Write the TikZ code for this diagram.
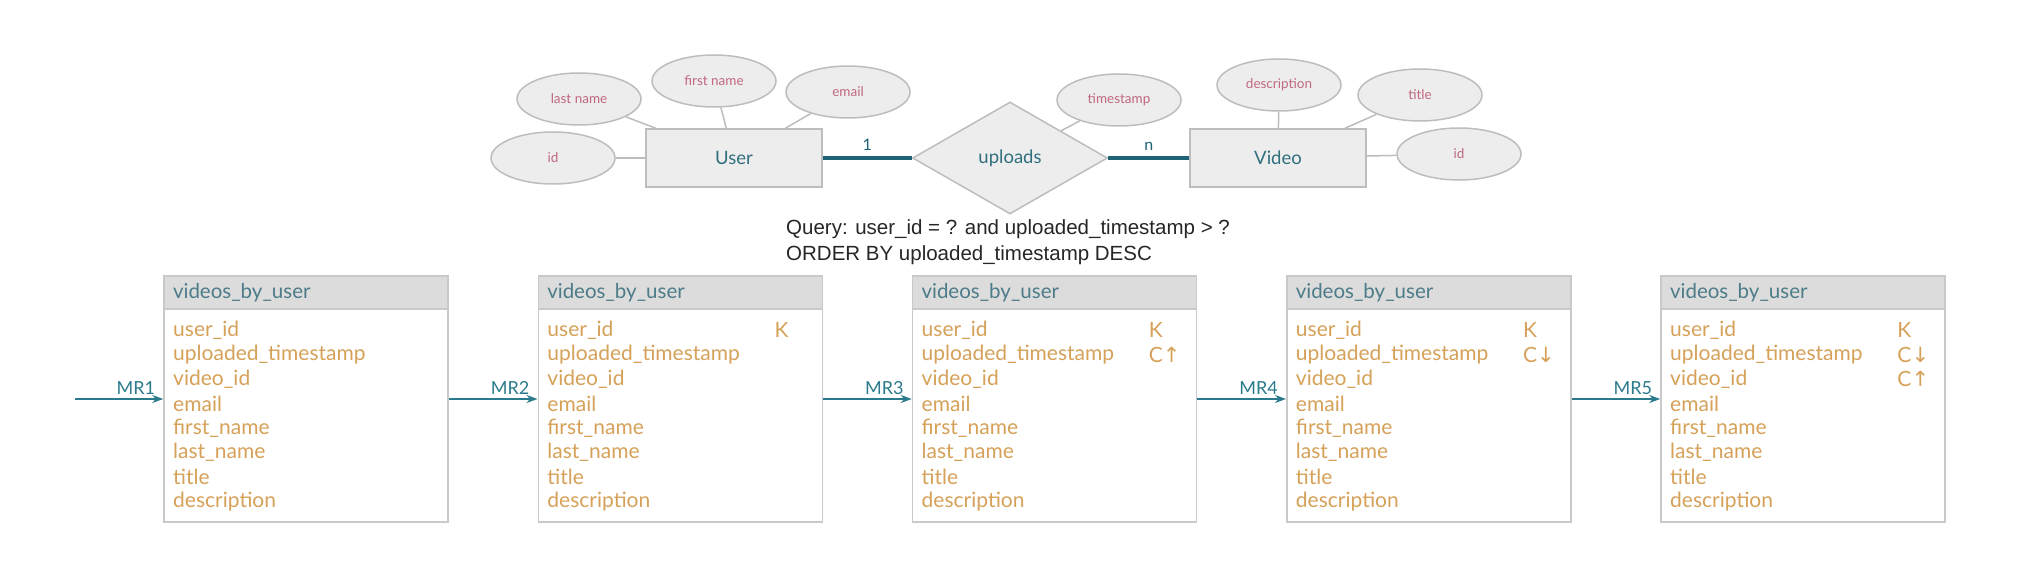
\documentclass[tikz,border=0pt]{standalone}
\usepackage{fontspec}
\setmainfont{Lato}
\newfontfamily\queryfont{Liberation Sans}
\newfontfamily\arrowfont{DejaVu Sans}
\usetikzlibrary{shapes.geometric,arrows.meta,positioning}

\definecolor{erfill}{HTML}{EDEDED}
\definecolor{erline}{HTML}{BDBDBD}
\definecolor{attrtext}{HTML}{C0687E}
\definecolor{enttext}{HTML}{2F6F7E}
\definecolor{relline}{HTML}{1E6275}
\definecolor{querytext}{HTML}{262626}
\definecolor{headfill}{HTML}{DCDCDC}
\definecolor{headtext}{HTML}{4D7C89}
\definecolor{coltext}{HTML}{D6A158}
\definecolor{tabline}{HTML}{C9C9C9}
\definecolor{mrcolor}{HTML}{2B7A8C}

\newcommand{\ascarrow}{{\arrowfont ↑}}
\newcommand{\descarrow}{{\arrowfont ↓}}

\tikzset{attr/.style = {shape = ellipse,
                        fill = erfill,
                        draw = erline,
                        line width = 1.5pt,
                        minimum width = 124pt,
                        minimum height = 52pt,
                        inner sep = 0pt,
                        text = attrtext,
                        font = \fontsize{13.5}{16}\selectfont},
         entity/.style = {shape = rectangle,
                          fill = erfill,
                          draw = erline,
                          line width = 1.5pt,
                          minimum width = 176pt,
                          minimum height = 58pt,
                          text = enttext,
                          font = \fontsize{18.5}{22}\selectfont},
         relation/.style = {shape = diamond,
                            fill = erfill,
                            draw = erline,
                            line width = 1.5pt,
                            minimum width = 195pt,
                            minimum height = 112pt,
                            inner sep = 0pt,
                            text = enttext,
                            font = \fontsize{18.5}{22}\selectfont},
         link/.style = {draw = erline, line width = 1.5pt},
         rel/.style = {draw = relline, line width = 3.5pt},
         card/.style = {above = 2pt, text = relline, font = \fontsize{16}{18}\selectfont},
         query/.style = {anchor = west,
                         align = left,
                         inner sep = 0pt,
                         text = querytext,
                         font = \queryfont\fontsize{20.5}{26}\selectfont},
         tablebox/.style = {shape = rectangle,
                            fill = white,
                            draw = tabline,
                            line width = 1.5pt,
                            minimum width = 284pt,
                            minimum height = 246pt},
         tablehead/.style = {shape = rectangle,
                             fill = headfill,
                             draw = tabline,
                             line width = 1.5pt,
                             minimum width = 284pt,
                             minimum height = 33pt,
                             text width = 266pt,
                             inner xsep = 9pt,
                             align = left,
                             text = headtext,
                             font = \fontsize{20.5}{24}\selectfont},
         colname/.style = {anchor = west,
                           inner sep = 0pt,
                           text = coltext,
                           font = \fontsize{21}{24}\selectfont},
         keyname/.style = {colname},
         mr/.style = {draw = mrcolor,
                      line width = 2.5pt,
                      -{Stealth[length=11pt,width=8pt]}},
         mrlabel/.style = {pos = 1,
                           anchor = base east,
                           inner sep = 0pt,
                           xshift = -7pt,
                           yshift = 5pt,
                           text = mrcolor,
                           font = \fontsize{18}{20}\selectfont}}

\begin{document}
\begin{tikzpicture}[x=1pt, y=-1pt]
    \useasboundingbox (0,0) rectangle (2039,561);
    % ER diagram
    \node[entity] (user) at (734,158) {User};
    \node[relation] (uploads) at (1010,158) {uploads};
    \node[entity] (video) at (1278,158) {Video};
    \node[attr] (uid) at (553,158) {id};
    \node[attr] (lname) at (579,99) {last name};
    \node[attr] (fname) at (714,81) {first name};
    \node[attr] (email) at (848,92) {email};
    \node[attr] (tstamp) at (1119,100) {timestamp};
    \node[attr] (descr) at (1279,85) {description};
    \node[attr] (title) at (1420,95) {title};
    \node[attr] (vid) at (1459,154) {id};
    \path[link] (uid) edge (user);
    \path[link] (lname) edge (user);
    \path[link] (fname) edge (user);
    \path[link] (email) edge (user);
    \path[link] (tstamp) edge (uploads);
    \path[link] (descr) edge (video);
    \path[link] (title) edge (video);
    \path[link] (vid) edge (video);
    \path[rel] (user) edge node[card] {1} (uploads);
    \path[rel] (uploads) edge node[card] {n} (video);

    \node[query] (query) at (786,242) {Query: user\_id = ? and uploaded\_timestamp > ?\\ORDER BY uploaded\_timestamp DESC};

    % tables
    \foreach \i in {1,...,5}{
        \pgfmathsetmacro{\tabx}{164+(\i-1)*374.25}
        \node[tablebox] (tab\i) at (\tabx+142,399) {};
        \node[tablehead] (head\i) at (\tabx+142,292.5) {videos\_by\_user};
        \foreach \col [count=\r] in {user\_id, uploaded\_timestamp, video\_id, email,
                                     first\_name, last\_name, title, description}
            \node[colname] (col\i-\r) at (\tabx+9,{330+(\r-1)*24.5}) {\col};
    }
    \foreach \i/\r/\key in {2/1/K, 3/1/K, 3/2/C\ascarrow, 4/1/K, 4/2/C\descarrow,
                            5/1/K, 5/2/C\descarrow, 5/3/C\ascarrow}
        \node[keyname, xshift=237pt] (key\i-\r) at (tab\i.west |- col\i-\r) {\key};

    % arrows between tables
    \coordinate (mrstart) at (75,399);
    \draw[mr] (mrstart) -- (tab1) node[mrlabel] {MR1};
    \draw[mr] (tab1) -- (tab2) node[mrlabel] {MR2};
    \draw[mr] (tab2) -- (tab3) node[mrlabel] {MR3};
    \draw[mr] (tab3) -- (tab4) node[mrlabel] {MR4};
    \draw[mr] (tab4) -- (tab5) node[mrlabel] {MR5};
\end{tikzpicture}
\end{document}
